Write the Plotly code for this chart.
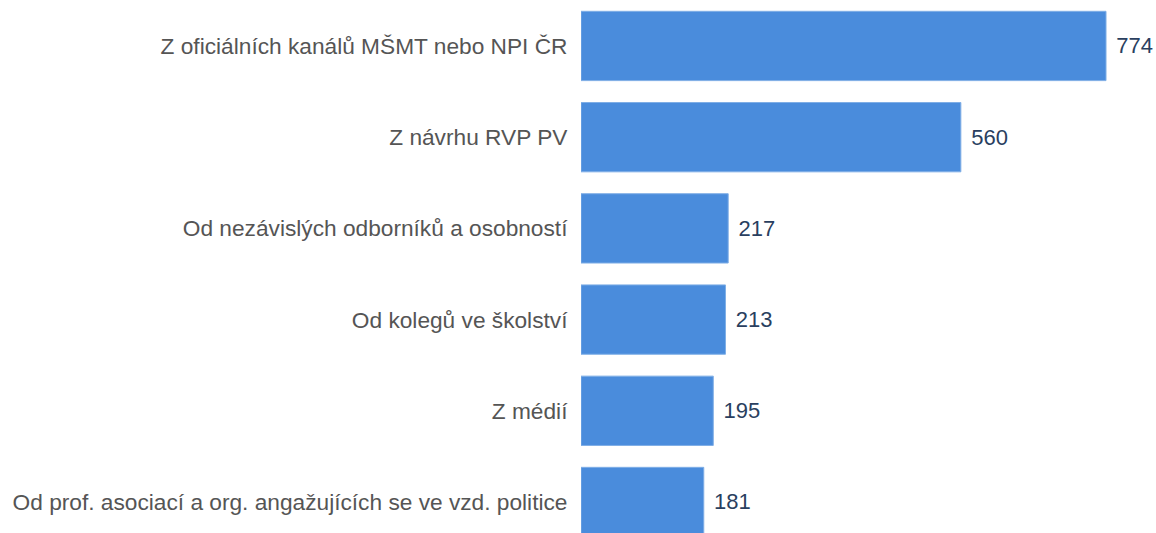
import plotly.graph_objects as go

categories = [
    "Z oficiálních kanálů MŠMT nebo NPI ČR",
    "Z návrhu RVP PV",
    "Od nezávislých odborníků a osobností",
    "Od kolegů ve školství",
    "Z médií",
    "Od prof. asociací a org. angažujících se ve vzd. politice",
]
values = [774, 560, 217, 213, 195, 181]

FONT = "Liberation Sans, Arial"

fig = go.Figure(go.Bar(
    x=values,
    y=categories,
    orientation="h",
    marker=dict(color="#4A8CDC", line=dict(color="#7FAEE6", width=1)),
    text=["\u2004" + str(v) for v in values],
    textposition="outside",
    textfont=dict(family=FONT, size=22, color="#2A3F5F"),
    cliponaxis=False,
    width=0.76,
    hoverinfo="skip",
))

fig.update_layout(
    width=1156,
    height=533,
    margin=dict(l=581, r=0, t=0, b=0),
    paper_bgcolor="white",
    plot_bgcolor="white",
    showlegend=False,
    hovermode=False,
    font=dict(family=FONT, size=22.7, color="#555555"),
    xaxis=dict(range=[0, 847.7], visible=False, showgrid=False, zeroline=False),
    yaxis=dict(
        type="category",
        range=[5.34, -0.504],
        showgrid=False,
        zeroline=False,
        showline=False,
        ticks="outside",
        ticklen=8,
        tickcolor="rgba(0,0,0,0)",
        tickfont=dict(family=FONT, size=22.7, color="#555555"),
    ),
)

fig.write_html(
    "out.html",
    config={"displayModeBar": False, "staticPlot": True},
    post_script="document.body.style.margin='0';document.body.style.overflow='hidden';",
)
